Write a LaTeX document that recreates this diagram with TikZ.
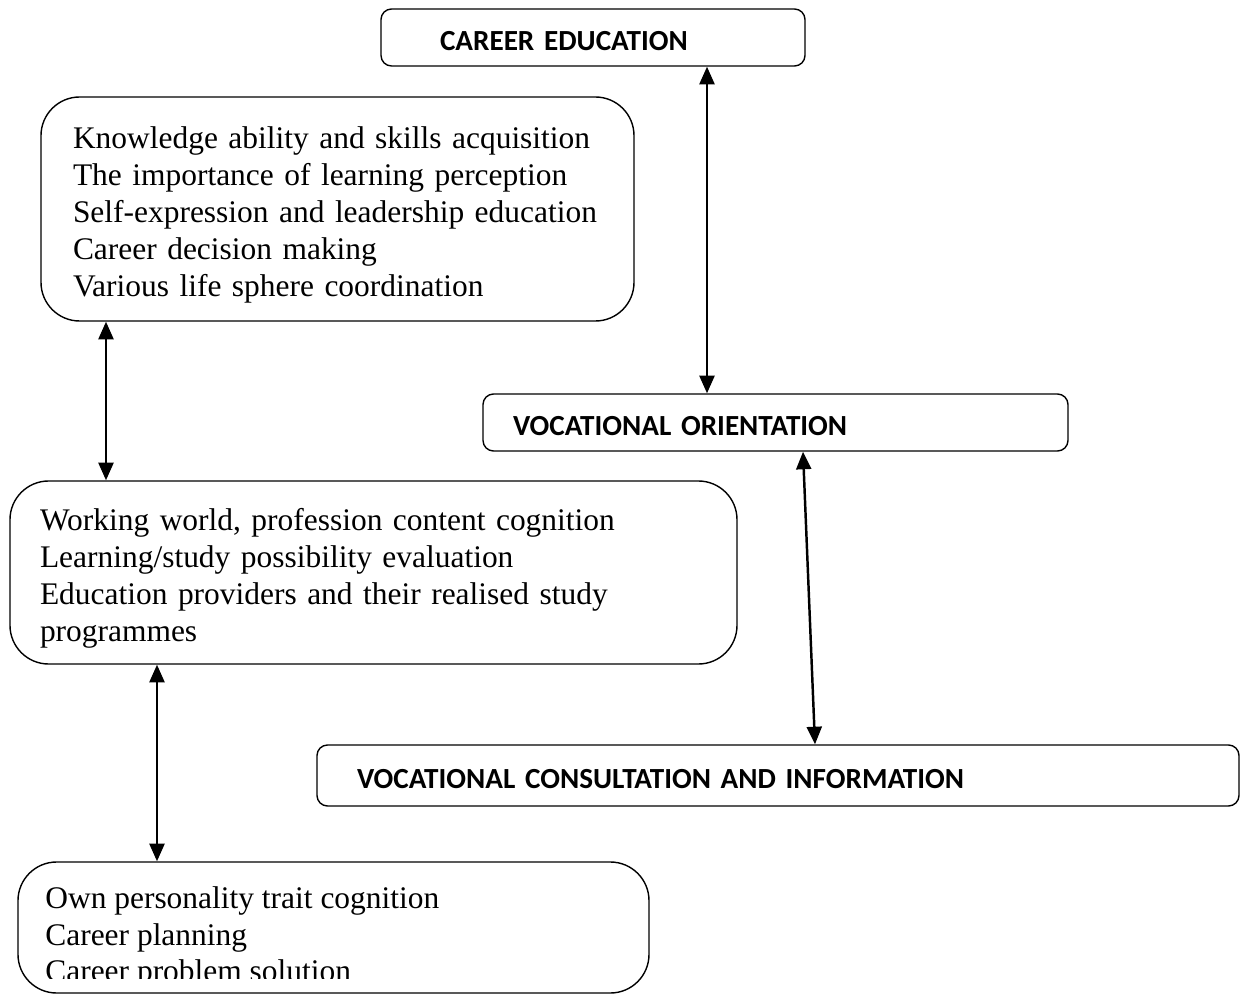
\documentclass[tikz,border=0pt]{standalone}
\usepackage{fontspec}
\setmainfont{Liberation Serif}
\newfontfamily\headfont{Carlito}
\usepackage{tikz}
\usetikzlibrary{arrows.meta}

\hyphenpenalty=10000
\hbadness=10000
\newcommand{\topstrut}{\rule{0pt}{19.3pt}}
\newcommand{\linestrut}{\rule[-3.9pt]{0pt}{19.9pt}}

\begin{document}
\begin{tikzpicture}[x=0.02cm, y=-0.02cm,
    box/.style={draw, line width=0.8pt, rounded corners=22pt, align=left, inner ysep=0pt,
                font=\fontsize{17.9}{21}\selectfont},
    head/.style={draw, line width=0.8pt, rounded corners=6pt, align=left, inner ysep=0pt,
                text height=15.3pt, text depth=0pt,
                font=\headfont\bfseries\fontsize{16.6}{20}\selectfont},
    biarrow/.style={line width=1.4pt, {Triangle[width=8.5pt,length=10pt]}-{Triangle[width=8.5pt,length=10pt]}}]
            \useasboundingbox (0,0) rectangle (1247,996);
            % heading boxes
            \node[head, minimum width=424*0.02cm, minimum height=57*0.02cm, inner xsep=59*0.02cm,
                  text width=306*0.02cm] (ce) at (593,37.5) {CAREER EDUCATION};
            \node[head, minimum width=585*0.02cm, minimum height=57*0.02cm, inner xsep=30*0.02cm,
                  text width=525*0.02cm] (vo) at (775.5,422.5) {VOCATIONAL ORIENTATION};
            \node[head, minimum width=922*0.02cm, minimum height=61*0.02cm, inner xsep=40*0.02cm,
                  text width=842*0.02cm] (vc) at (778,775.5) {VOCATIONAL CONSULTATION AND INFORMATION};
            % content boxes
            \node[box, minimum width=593*0.02cm, minimum height=224*0.02cm, inner xsep=32*0.02cm,
                  text width=529*0.02cm] (kn) at (337.5,209) {\topstrut Knowledge ability and skills acquisition\\
                  The importance of learning perception\\ Self-expression and leadership education\\
                  Career decision making\\ Various life sphere coordination\linestrut};
            \node[box, minimum width=727*0.02cm, minimum height=183*0.02cm, inner xsep=30*0.02cm,
                  text width=667*0.02cm] (ww) at (373.5,572.5) {\topstrut Working world, profession content cognition\\
                  Learning/study possibility evaluation\\ Education providers and their realised study\\
                  programmes\linestrut};
            \node[box, minimum width=631*0.02cm, minimum height=131*0.02cm] (op) at (333.5,927.5) {};
            \begin{scope}
                \clip (0,0) rectangle (1247,978);
                \node[anchor=north west, inner sep=0pt, align=left, font=\fontsize{17.9}{21}\selectfont]
                      (optext) at (45,886) {Own personality trait cognition\\ Career planning\\ Career problem solution};
            \end{scope}
            % connectors
            \draw[biarrow] (ce.south -| 707,0) -- (vo.north -| 707,0);
            \draw[biarrow] (kn.south -| 106,0) -- (ww.north -| 106,0);
            \draw[biarrow] (vo.south -| 803,0) -- (vc.north -| 815,0);
            \draw[biarrow] (ww.south -| 157,0) -- (op.north -| 157,0);
\end{tikzpicture}
\end{document}
